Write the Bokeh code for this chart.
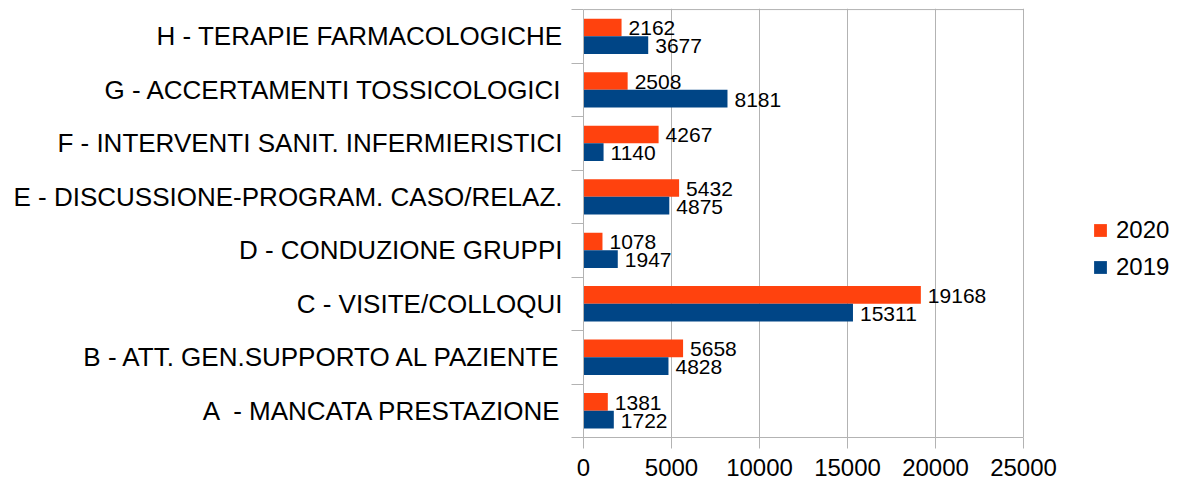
from bokeh.plotting import figure
from bokeh.models import Range1d, FixedTicker, Legend, LegendItem
from bokeh.core.properties import value
from bokeh.embed import file_html
from bokeh.resources import INLINE
import numpy as np

categories = [
    "A \u00a0- MANCATA PRESTAZIONE",
    "B - ATT. GEN.SUPPORTO AL PAZIENTE",
    "C - VISITE/COLLOQUI",
    "D - CONDUZIONE GRUPPI",
    "E - DISCUSSIONE-PROGRAM. CASO/RELAZ.",
    "F - INTERVENTI SANIT. INFERMIERISTICI",
    "G - ACCERTAMENTI TOSSICOLOGICI",
    "H - TERAPIE FARMACOLOGICHE",
]
values_2020 = [1381, 5658, 19168, 1078, 5432, 4267, 2508, 2162]
values_2019 = [1722, 4828, 15311, 1947, 4875, 1140, 8181, 3677]
series_names = ["2020", "2019"]
x_ticks = [0, 5000, 10000, 15000, 20000, 25000]

C2020 = "#ff420e"
C2019 = "#004586"
GRID = "#b3b3b3"
FONT = "Liberation Sans"

n = len(categories)
centers = np.arange(n) + 0.5
bh = 0.33

# axis (0..25000) occupies 440px; frame extends right to host the legend
AXIS_PX = 440
FRAME_W = 589
FRAME_H = 429
x_max = x_ticks[-1] * FRAME_W / AXIS_PX
y_top = n + 0.02

p = figure(frame_width=FRAME_W, frame_height=FRAME_H, output_backend="svg",
           toolbar_location=None,
           x_range=Range1d(0, x_max), y_range=Range1d(0, y_top),
           min_border_left=583, min_border_right=0, min_border_top=8,
           min_border_bottom=46)
p.background_fill_color = "white"
p.border_fill_color = "white"
p.outline_line_color = None

r20 = p.hbar(y=centers + bh / 2, height=bh, left=0, right=values_2020,
             fill_color=C2020, line_color=None)
r19 = p.hbar(y=centers - bh / 2, height=bh, left=0, right=values_2019,
             fill_color=C2019, line_color=None)

# top border of the plot area
p.segment(x0=[0], y0=[n], x1=[x_ticks[-1]], y1=[n], line_color=GRID, line_width=1)

p.text(x=values_2020, y=centers + bh / 2, text=[str(v) for v in values_2020],
       x_offset=7, y_offset=1, text_baseline="middle", text_align="left",
       text_font=value(FONT), text_font_size="21px", text_color="black")
p.text(x=values_2019, y=centers - bh / 2, text=[str(v) for v in values_2019],
       x_offset=7, y_offset=1, text_baseline="middle", text_align="left",
       text_font=value(FONT), text_font_size="21px", text_color="black")

# y axis
ya = p.yaxis[0]
ya.ticker = FixedTicker(ticks=list(centers), minor_ticks=list(range(n + 1)))
ya.major_label_overrides = {float(c): lab for c, lab in zip(centers, categories)}
ya.major_tick_out = 0
ya.major_tick_in = 0
ya.minor_tick_out = 12
ya.minor_tick_in = 0
ya.minor_tick_line_color = GRID
ya.axis_line_color = GRID
ya.bounds = (0, n)
ya.major_label_standoff = 9
ya.major_label_text_font = FONT
ya.major_label_text_font_size = "26px"
ya.major_label_text_color = "black"

# x axis
xa = p.xaxis[0]
xa.ticker = FixedTicker(ticks=x_ticks, minor_ticks=[])
xa.bounds = (0, x_ticks[-1])
xa.major_tick_out = 11
xa.major_tick_in = 0
xa.major_tick_line_color = GRID
xa.axis_line_color = GRID
xa.major_label_standoff = 10
xa.major_label_text_font = FONT
xa.major_label_text_font_size = "24px"
xa.major_label_text_color = "black"

p.xgrid.grid_line_color = GRID
p.xgrid.ticker = FixedTicker(ticks=x_ticks)
p.ygrid.grid_line_color = None

legend = Legend(items=[LegendItem(label=series_names[0], renderers=[r20]),
                       LegendItem(label=series_names[1], renderers=[r19])],
                location=(509, 156), orientation="vertical")
legend.glyph_width = 16
legend.glyph_height = 16
legend.label_standoff = 8
legend.spacing = 9
legend.padding = 0
legend.margin = 0
legend.border_line_color = None
legend.background_fill_alpha = 0
legend.label_text_font = FONT
legend.label_text_font_size = "24px"
legend.label_text_color = "black"
p.add_layout(legend, "center")

open("out.html", "w").write(file_html(p, INLINE))
